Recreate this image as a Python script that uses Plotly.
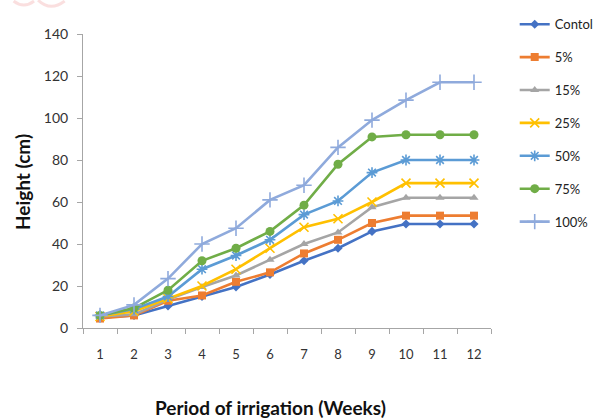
import plotly.graph_objects as go

# Weekly plant height (cm) under different irrigation treatments
weeks = [str(w) for w in range(1, 13)]

contol = [5, 6, 10.5, 15, 19.5, 25.5, 32, 38, 46, 49.5, 49.5, 49.5]
p5 = [4.5, 6, 13, 15.5, 22, 26.5, 35.5, 42, 50, 53.5, 53.5, 53.5]
p15 = [5.5, 6.5, 13.5, 19.5, 25, 32.5, 40, 45.5, 57.5, 62, 62, 62]
p25 = [5.5, 8, 14, 20, 28, 38, 48, 52, 60, 69, 69, 69]
p50 = [6, 9, 15, 28, 34.5, 42, 54, 60.5, 74, 80, 80, 80]
p75 = [6, 9.5, 18, 32, 38, 46, 58.5, 78, 91, 92, 92, 92]
p100 = [6, 11, 23.5, 40, 47.5, 61, 68, 86, 99, 108.5, 117, 117]

series_names = ["Contol", "5%", "15%", "25%", "50%", "75%", "100%"]
series_values = [contol, p5, p15, p25, p50, p75, p100]
colors = ["#4472C4", "#ED7D31", "#A5A5A5", "#FFC000", "#5B9BD5", "#70AD47", "#8FAADC"]
symbols = ["diamond", "square", "triangle-up", "x-thin", "asterisk", "circle", "cross-thin"]
sizes = [7, 8, 8, 9, 9, 9, 11]

FONT = "Lato, 'Open Sans', sans-serif"

fig = go.Figure()
for i, (name, vals) in enumerate(zip(series_names, series_values)):
    thin = symbols[i] in ("x-thin", "asterisk", "cross-thin")
    fig.add_trace(go.Scatter(
        x=weeks, y=vals, name=name, mode="lines+markers",
        legendgroup=name,
        line=dict(color=colors[i], width=2.6),
        marker=dict(symbol=symbols[i], size=sizes[i], color=colors[i],
                    line=dict(color=colors[i], width=1.6 if thin else 0)),
    ))

fig.update_layout(
    width=602, height=420,
    margin=dict(l=83, r=111, t=34, b=91.5),
    paper_bgcolor="white", plot_bgcolor="white",
    font=dict(family=FONT, size=14, color="#333333"),
    showlegend=True,
    legend=dict(
        xref="container", yref="container",
        x=0.855, y=0.978, xanchor="left", yanchor="top",
        font=dict(family=FONT, size=13, color="#222222"),
        tracegroupgap=13, itemwidth=30, maxheight=400,
        bgcolor="rgba(0,0,0,0)",
    ),
    xaxis=dict(
        type="category", range=[-0.5, 11.5],
        showline=True, linecolor="#A6A6A6", linewidth=1,
        ticks="outside", tickson="boundaries", ticklen=5, tickcolor="#A6A6A6",
        showgrid=False, zeroline=False,
        tickfont=dict(family=FONT, size=13, color="#333333"),
        ticklabelstandoff=14,
    ),
    yaxis=dict(
        range=[0, 140], dtick=20,
        showline=True, linecolor="#A6A6A6", linewidth=1,
        ticks="outside", ticklen=5, tickcolor="#A6A6A6",
        showgrid=False, zeroline=False,
        tickfont=dict(family=FONT, size=14, color="#333333"),
        ticklabelstandoff=6,
    ),
    annotations=[
        dict(text="<b>Height (cm)</b>", textangle=-90,
             xref="paper", yref="paper", x=-0.148, y=0.495,
             xanchor="center", yanchor="middle", showarrow=False,
             font=dict(family=FONT, size=19, color="#111111")),
        dict(text="<b>Period of irrigation (Weeks)</b>",
             xref="paper", yref="paper", x=(270 - 83) / 408, y=-0.272,
             xanchor="center", yanchor="middle", showarrow=False,
             font=dict(family=FONT, size=19, color="#111111")),
    ],
    shapes=[
        # faint logo fragment in the upper-left corner
        dict(type="path", xref="paper", yref="paper", layer="below",
             path="M -0.17 1.112 Q -0.145 1.085 -0.12 1.112",
             line=dict(color="rgba(240,150,150,0.3)", width=3)),
        dict(type="path", xref="paper", yref="paper", layer="below",
             path="M -0.11 1.115 Q -0.08 1.075 -0.045 1.112",
             line=dict(color="rgba(240,150,150,0.3)", width=3)),
    ],
)

fig.write_html("out.html")
